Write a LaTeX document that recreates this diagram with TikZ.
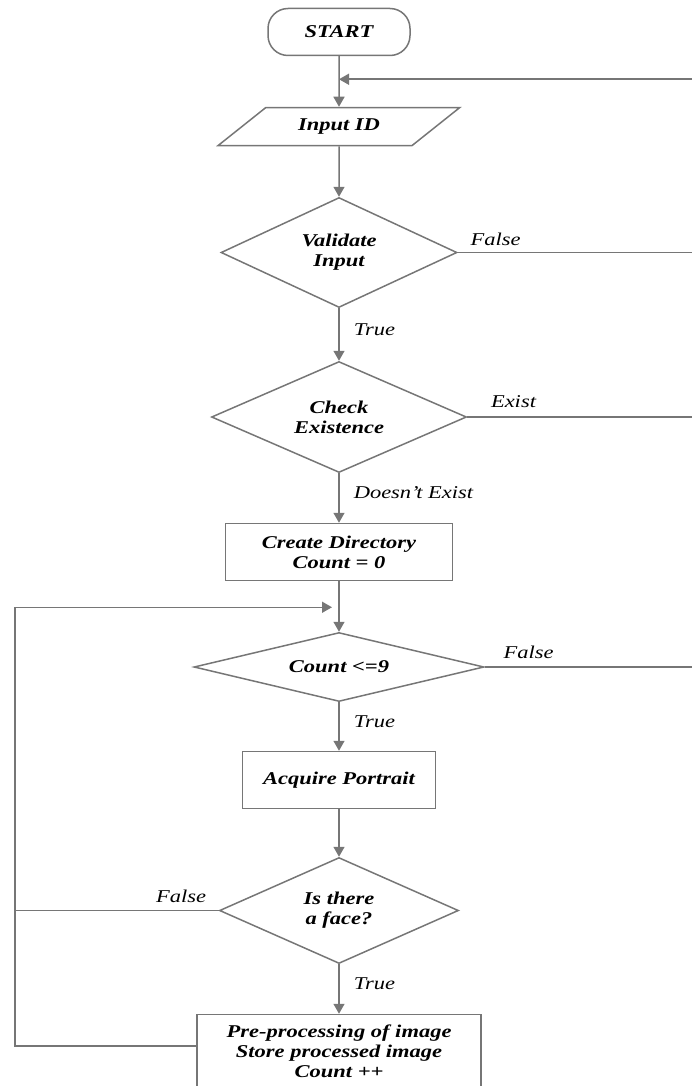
\documentclass[tikz,border=0pt]{standalone}
\usepackage{fontspec}
\setmainfont{Liberation Serif}[FakeStretch=1.25]
\usetikzlibrary{positioning,shapes.geometric,arrows.meta}
\definecolor{linegray}{RGB}{118,118,118}
\begin{document}
\begin{tikzpicture}[x=1pt, y=1pt, line width=1.5pt,
  term/.style = {draw=linegray, text=black, rounded corners=20pt, minimum width=142pt, minimum height=47pt, font=\fontsize{18}{20}\selectfont\bfseries\itshape},
  io/.style = {draw=linegray, text=black, trapezium, trapezium left angle=35, trapezium right angle=145, trapezium stretches=true, minimum width=242pt, minimum height=38pt, inner sep=2pt, font=\fontsize{18}{20}\selectfont\bfseries\itshape},
  decision/.style = {draw=linegray, text=black, diamond, aspect=2, inner sep=0pt, align=center, font=\fontsize{18}{20}\selectfont\bfseries\itshape},
  process/.style = {draw=linegray, text=black, rectangle, minimum height=57pt, inner sep=3pt, align=center, font=\fontsize{18}{20}\selectfont\bfseries\itshape},
  lab/.style = {text=black, inner sep=3pt, font=\fontsize{18}{20}\selectfont\itshape},
  flow/.style = {draw=linegray, -{Triangle[width=11pt,length=10pt]}},
  wire/.style = {draw=linegray}]
  \useasboundingbox (0,0) rectangle (692,-1086);
  \clip (0,0) rectangle (692,-1086);
  \node[term] (start) at (339,-32) {START};
  \node[io] (input) [below=50.5pt of start] {Input ID};
  \node[decision, minimum width=236pt, minimum height=110pt] (validate) [below=50.5pt of input] {Validate\\Input};
  \node[decision, minimum width=255pt, minimum height=111pt] (check) [below=52.5pt of validate] {Check\\Existence};
  \node[process, minimum width=227pt] (create) [below=49.5pt of check] {Create Directory\\Count = 0};
  \node[decision, minimum width=290pt, minimum height=69pt] (count) [below=50.5pt of create] {Count <=9};
  \node[process, minimum width=193pt] (acquire) [below=48.5pt of count] {Acquire Portrait};
  \node[decision, minimum width=239pt, minimum height=106pt] (face) [below=47.5pt of acquire] {Is there\\a face?};
  \node[process, minimum width=284pt, minimum height=74pt] (store) [below=49.5pt of face] {Pre-processing of image\\Store processed image\\Count ++};
  \coordinate (loopin) at ([yshift=-23pt]start.south);
  \coordinate (loopback) at ([xshift=-7pt,yshift=-26pt]create.south);
  \coordinate (leftrail) at (15,0);
  \coordinate (rightrail) at (710,0);
  \draw[flow] (start) -- (input);
  \draw[flow] (input) -- (validate);
  \draw[flow] (validate) -- node[lab, right=11pt, pos=0.4] {True} (check);
  \draw[flow] (check) -- node[lab, right=11pt, pos=0.4] {Doesn't Exist} (create);
  \draw[flow] (create) -- (count);
  \draw[flow] (count) -- node[lab, right=11pt, pos=0.4] {True} (acquire);
  \draw[flow] (acquire) -- (face);
  \draw[flow] (face) -- node[lab, right=11pt, pos=0.4] {True} (store);
  \draw[flow] (validate.east) node[lab, anchor=south west, xshift=9pt, yshift=3pt] {False} -| (rightrail |- loopin) -- (loopin);
  \draw[wire] (check.east) node[lab, anchor=south west, xshift=20pt, yshift=6pt] {Exist} -- (check.east -| rightrail);
  \draw[wire] (count.east) node[lab, anchor=south west, xshift=15pt, yshift=5pt] {False} -- (count.east -| rightrail);
  \draw[wire] (face.west) node[lab, anchor=south east, xshift=-9pt, yshift=4pt] {False} -- (face.west -| leftrail);
  \draw[flow] ([yshift=-32pt]store.north west) -| (leftrail |- loopback) -- (loopback);
\end{tikzpicture}
\end{document}
